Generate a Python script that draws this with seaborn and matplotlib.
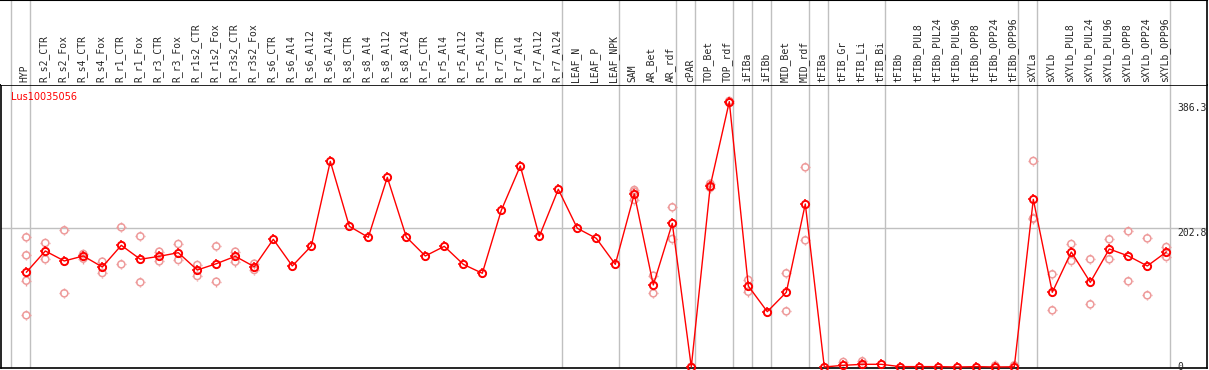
import numpy as np
import pandas as pd
import seaborn as sns
from matplotlib import pyplot as plt
from matplotlib.path import Path

GENE = "Lus10035056"

samples = [
    "HYP", "R_s2_CTR", "R_s2_Fox", "R_s4_CTR", "R_s4_Fox", "R_r1_CTR", "R_r1_Fox",
    "R_r3_CTR", "R_r3_Fox", "R_r1s2_CTR", "R_r1s2_Fox", "R_r3s2_CTR", "R_r3s2_Fox",
    "R_s6_CTR", "R_s6_Al4", "R_s6_Al12", "R_s6_Al24", "R_s8_CTR", "R_s8_Al4",
    "R_s8_Al12", "R_s8_Al24", "R_r5_CTR", "R_r5_Al4", "R_r5_Al12", "R_r5_Al24",
    "R_r7_CTR", "R_r7_Al4", "R_r7_Al12", "R_r7_Al24", "LEAF_N", "LEAF_P", "LEAF_NPK",
    "SAM", "AR_Bet", "AR_rdf", "cPAR", "TOP_Bet", "TOP_rdf", "iFIBa", "iFIBb",
    "MID_Bet", "MID_rdf", "tFIBa", "tFIB_Gr", "tFIB_Li", "tFIB_Bi", "tFIBb",
    "tFIBb_PUL8", "tFIBb_PUL24", "tFIBb_PUL96", "tFIBb_OPP8", "tFIBb_OPP24",
    "tFIBb_OPP96", "sXYLa", "sXYLb", "sXYLb_PUL8", "sXYLb_PUL24", "sXYLb_PUL96",
    "sXYLb_OPP8", "sXYLb_OPP24", "sXYLb_OPP96",
]

means = [
    138.4, 169.6, 155.0, 162.3, 146.2, 177.9, 157.5, 161.8, 167.1, 141.8, 151.0,
    161.8, 146.6, 186.7, 147.7, 176.9, 300.7, 205.7, 189.6, 277.3, 190.0, 162.3,
    176.4, 150.1, 137.0, 229.1, 293.9, 191.0, 259.8, 202.8, 188.1, 150.1, 253.0,
    119.9, 210.1, 0.0, 265.1, 388.0, 118.4, 80.9, 109.2, 238.3, 0.0, 2.4, 3.9,
    3.9, 0.5, 0.5, 0.5, 0.0, 0.5, 0.0, 0.3, 245.1, 109.2, 168.1, 123.8, 172.5,
    162.3, 147.7, 168.1,
]

# individual replicates (empty where only the mean is shown)
replicates = [
    [189.6, 163.3, 126.2, 75.6], [181.3, 157.5], [199.8, 107.7], [165.2, 158.4],
    [154.0, 137.4], [204.2, 150.1], [191.0, 123.8], [168.6, 154.5], [179.8, 156.4],
    [149.1, 133.0], [176.4, 124.7], [168.6, 154.0], [151.0, 141.8],
    [], [], [], [], [], [], [], [], [], [], [], [], [], [], [], [], [], [], [],
    [258.8, 256.3, 244.2], [133.5, 107.7], [233.5, 187.1], [0.5], [268.0, 262.0],
    [386.3, 389.0], [127.2, 110.1], [], [137.0, 81.4], [292.0, 185.2], [],
    [7.3], [8.3, 1.0], [], [], [], [], [], [], [2.0], [2.4],
    [301.2, 217.4, 216.7], [135.5, 82.9], [179.8, 155.0], [157.5, 91.6],
    [186.7, 157.5], [198.4, 125.3], [188.1, 104.8], [175.4, 160.8],
]

# index of the last sample in each group
group_ends = [-1, 0, 28, 31, 34, 35, 37, 38, 39, 41, 42, 45, 52, 53, 60]
scale_labels = [386.3, 202.8, 0]

idx = np.arange(len(samples))
mean_df = pd.DataFrame({"i": idx, "value": means})
rep_df = pd.DataFrame(
    [(i, v) for i, reps in enumerate(replicates) for v in reps], columns=["i", "value"]
)

sns.set_style("white")
plt.rcParams["font.family"] = ["DejaVu Sans"]

W, H = 1209, 370
fig = plt.figure(figsize=(W / 100, H / 100), dpi=100)
x0, x1 = 1, 1207
top_y, bot_y = 85, 368
ax = fig.add_axes([x0 / W, (H - bot_y) / H, (x1 - x0) / W, (bot_y - top_y) / H])
hd = fig.add_axes([x0 / W, (H - top_y) / H, (x1 - x0) / W, top_y / H - 0.001])

xlim = ((x0 - 26.3) / 19, (x1 - 26.3) / 19)
for a in (ax, hd):
    a.set_xlim(*xlim)
    a.set_xticks([])
    a.set_yticks([])
    for g in group_ends:
        a.axvline(g + 0.21, color="#c0c0c0", lw=1, zorder=0)
ax.set_ylim(-1.5, 412.3)
hd.set_ylim(0, top_y)

for s in ax.spines.values():
    s.set_color("black")
    s.set_linewidth(1.2)
hd.spines["left"].set_visible(False)
hd.spines["bottom"].set_visible(False)
hd.spines["top"].set_linewidth(1.5)
hd.spines["right"].set_linewidth(1.2)
hd.spines["top"].set_color("black")
hd.spines["right"].set_color("black")

ax.axhline(202.8, color="#c0c0c0", lw=1, zorder=0)

# small ticks around the circles
tick = Path(
    [(0, 1), (0, 1.45), (0, -1), (0, -1.45), (1, 0), (1.45, 0), (-1, 0), (-1.45, 0)],
    [Path.MOVETO, Path.LINETO] * 4,
)

pink = "#ee9a9a"
sns.scatterplot(data=rep_df, x="i", y="value", ax=ax, marker="o", s=26,
                fc="none", ec=pink, linewidth=1.1, zorder=2, legend=False)
sns.scatterplot(data=rep_df, x="i", y="value", ax=ax, marker=tick, s=55,
                ec=pink, fc="none", linewidth=1.0, zorder=2, legend=False)
sns.lineplot(data=mean_df, x="i", y="value", ax=ax, color="red", lw=1,
             marker="o", markersize=5.2, markerfacecolor="none",
             markeredgecolor="red", markeredgewidth=1.4, zorder=3, clip_on=False)
ax.plot(mean_df["i"], mean_df["value"], linestyle="none", marker=tick,
        markersize=7.5, markeredgecolor="red", markeredgewidth=1.1, zorder=3)
ax.set_xlabel("")
ax.set_ylabel("")

ax.text(10 / (x1 - x0), 1 - 12 / (bot_y - top_y), GENE, transform=ax.transAxes,
        color="red", fontsize=7, va="center", ha="left")

for i, name in enumerate(samples):
    hd.text(i - 0.08, 3, name, rotation=90, ha="center", va="bottom",
            fontsize=7, family="DejaVu Sans Mono")

for v in scale_labels:
    y = v if v > 0 else 8
    ax.text(1177 / W * 0 + (1177 - x0) / (x1 - x0), y, f"{v:g}" if v == 0 else f"{v}",
            transform=ax.get_yaxis_transform(), ha="left", va="top",
            fontsize=7, family="DejaVu Sans Mono")

fig.savefig("out.png", dpi=100)
